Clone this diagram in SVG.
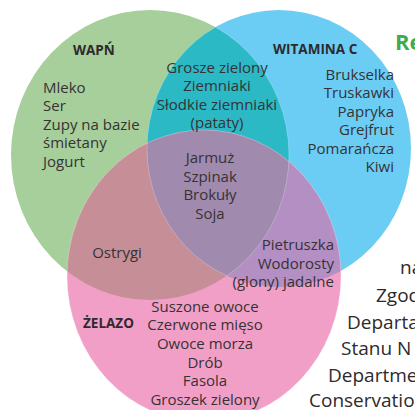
<svg xmlns="http://www.w3.org/2000/svg" width="415" height="410" viewBox="0 0 415 410">
<defs>
<style>
.t{font-family:"Open Sans","Liberation Sans",sans-serif;font-size:15px;fill:#363234}
.b{font-family:"Open Sans","Liberation Sans",sans-serif;font-size:13.5px;font-weight:bold;fill:#2e2a2c}
.m{text-anchor:middle}
.e{text-anchor:end}
.r{font-family:"Open Sans","Liberation Sans",sans-serif;font-size:19px;fill:#2e2a2c}
.edge{fill:none;stroke:#ffffff;stroke-opacity:0.35;stroke-width:0.7}
</style>
<clipPath id="cG"><ellipse cx="150" cy="155" rx="139" ry="145"/></clipPath>
<clipPath id="cB"><ellipse cx="279" cy="148.5" rx="132" ry="138.5"/></clipPath>
</defs>
<rect width="415" height="410" fill="#ffffff"/>
<g id="wapn-circle"><ellipse cx="150" cy="155" rx="139" ry="145" fill="#a6cf9b"/></g>
<g id="witamina-c-circle"><ellipse cx="279" cy="148.5" rx="132" ry="138.5" fill="#6bcdf4"/></g>
<g id="zelazo-circle"><ellipse cx="204" cy="276" rx="137" ry="146" fill="#f29fc7"/></g>
<g id="wapn-witc"><ellipse cx="279" cy="148.5" rx="132" ry="138.5" fill="#2bb9c6" clip-path="url(#cG)"/></g>
<g id="wapn-zelazo"><ellipse cx="204" cy="276" rx="137" ry="146" fill="#c68f97" clip-path="url(#cG)"/></g>
<g id="witc-zelazo"><ellipse cx="204" cy="276" rx="137" ry="146" fill="#b48fc3" clip-path="url(#cB)"/></g>
<g id="all-three" clip-path="url(#cG)"><ellipse cx="204" cy="276" rx="137" ry="146" fill="#a08aad" clip-path="url(#cB)"/></g>
<g id="edges">
<ellipse class="edge" cx="150" cy="155" rx="139" ry="145" clip-path="url(#cB)"/>
<ellipse class="edge" cx="279" cy="148.5" rx="132" ry="138.5" clip-path="url(#cG)"/>
<ellipse class="edge" cx="204" cy="276" rx="137" ry="146"/>
</g>
<g id="wapn">
<text class="b" x="73" y="55">WAPŃ</text>
<text class="t" x="43" y="93">Mleko</text>
<text class="t" x="43" y="111">Ser</text>
<text class="t" x="43" y="130">Zupy na bazie</text>
<text class="t" x="43" y="148">śmietany</text>
<text class="t" x="43" y="167">Jogurt</text>
</g>
<g id="witamina-c">
<text class="b" x="273" y="54">WITAMINA C</text>
<text class="t e" x="394" y="80">Brukselka</text>
<text class="t e" x="394" y="98">Truskawki</text>
<text class="t e" x="394" y="117">Papryka</text>
<text class="t e" x="394" y="135">Grejfrut</text>
<text class="t e" x="394" y="154">Pomarańcza</text>
<text class="t e" x="394" y="172">Kiwi</text>
</g>
<g id="wapn-witamina-c">
<text class="t m" x="217" y="73">Grosze zielony</text>
<text class="t m" x="217" y="91">Ziemniaki</text>
<text class="t m" x="217" y="110">Słodkie ziemniaki</text>
<text class="t m" x="217" y="128">(pataty)</text>
</g>
<g id="wszystkie">
<text class="t m" x="210" y="163">Jarmuż</text>
<text class="t m" x="210" y="182">Szpinak</text>
<text class="t m" x="210" y="200">Brokuły</text>
<text class="t m" x="210" y="219">Soja</text>
</g>
<g id="wapn-zelazo-text">
<text class="t m" x="117" y="258">Ostrygi</text>
</g>
<g id="witamina-c-zelazo">
<text class="t e" x="334" y="250">Pietruszka</text>
<text class="t e" x="334" y="269">Wodorosty</text>
<text class="t e" x="334" y="287">(glony) jadalne</text>
</g>
<g id="zelazo">
<text class="b" x="83" y="328">ŻELAZO</text>
<text class="t m" x="205" y="312">Suszone owoce</text>
<text class="t m" x="205" y="330">Czerwone mięso</text>
<text class="t m" x="205" y="349">Owoce morza</text>
<text class="t m" x="205" y="368">Drób</text>
<text class="t m" x="205" y="386">Fasola</text>
<text class="t m" x="205" y="405">Groszek zielony</text>
</g>
<g id="side-text">
<text x="395" y="50" font-family="'Open Sans','Liberation Sans',sans-serif" font-size="22" font-weight="bold" fill="#3fab4b">Re</text>
<text class="r" x="400" y="274">na</text>
<text class="r" x="376" y="302">Zgod</text>
<text class="r" x="347" y="329">Departa</text>
<text class="r" x="341" y="355">Stanu N</text>
<text class="r" x="328" y="382">Departme</text>
<text class="r" x="309" y="407">Conservatio</text>
</g>
</svg>
